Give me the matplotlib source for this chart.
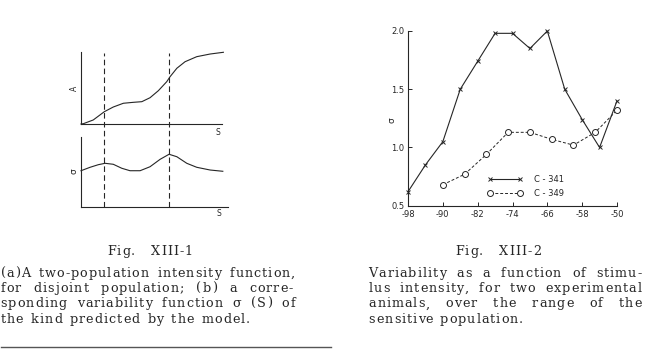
import matplotlib
matplotlib.use("Agg")
import matplotlib.pyplot as plt
from matplotlib.font_manager import FontProperties, findfont, get_font

# Fig. XIII-1 sketch curves (S in arbitrary units)
s_a = [0.0, 0.16, 0.85, 1.62, 2.24, 2.94, 3.63, 4.22, 4.79, 5.37, 5.95, 6.18, 6.65, 7.22, 8.03, 8.96, 9.88]
a_vals = [0.0, 0.04, 0.56, 1.71, 2.36, 2.88, 3.01, 3.10, 3.65, 4.63, 5.88, 6.57, 7.74, 8.65, 9.35, 9.72, 9.96]
s_sig = [0.0, 0.63, 1.20, 1.67, 2.24, 2.83, 3.40, 4.10, 4.79, 5.49, 6.11, 6.65, 7.34, 8.03, 8.96, 9.84]
sig_vals = [5.14, 5.63, 6.00, 6.20, 6.06, 5.49, 5.14, 5.14, 5.71, 6.77, 7.49, 7.14, 6.20, 5.63, 5.24, 5.06]
s_dashed = [1.62, 6.11]

# Fig. XIII-2 data
x_341 = [-98, -94, -90, -86, -82, -78, -74, -70, -66, -62, -58, -54, -50]
c_341 = [0.62, 0.85, 1.05, 1.50, 1.74, 1.98, 1.98, 1.85, 2.00, 1.50, 1.24, 1.00, 1.40]
x_349 = [-90, -85, -80, -75, -70, -65, -60, -55, -50]
c_349 = [0.68, 0.77, 0.94, 1.13, 1.13, 1.07, 1.02, 1.13, 1.32]
xticks = [-98, -90, -82, -74, -66, -58, -50]
xtick_labels = ["-98", "-90", "-82", "-74", "-66", "-58", "-50"]
yticks = [0.5, 1.0, 1.5, 2.0]
ytick_labels = ["0.5", "1.0", "1.5", "2.0"]

cap1 = ["(a)A two-population intensity function,",
        "for disjoint population; (b) a corre-",
        "sponding variability function \u03c3 (S) of",
        "the kind predicted by the model."]
cap2 = ["Variability as a function of stimu-",
        "lus intensity, for two experimental",
        "animals, over the range of the",
        "sensitive population."]
# right ends of the caption lines (pixels)
cap1_ends = [295, 293, 295, 250]
cap2_ends = [641.5, 641.5, 641.5, 523]

INK = "#262626"
W, H = 645, 350

fig = plt.figure(figsize=(6.45, 3.5), dpi=100)
fig.patch.set_facecolor("white")


def fx(px):
    return px / W


def fy(py):
    return 1 - py / H


# ---- left figure: two stacked sketch panels
def sketch_axes(rect, xmax):
    ax = fig.add_axes(rect)
    for side in ["top", "right"]:
        ax.spines[side].set_visible(False)
    for side in ["left", "bottom"]:
        ax.spines[side].set_color(INK)
        ax.spines[side].set_linewidth(0.8)
    ax.spines["bottom"].set_bounds(0, xmax)
    ax.set_xticks([])
    ax.set_yticks([])
    ax.set_xlim(0, 10.2)
    ax.set_ylim(0, 10)
    ax.patch.set_alpha(0)
    return ax


ax_a = sketch_axes([fx(81), fy(124), fx(147), 72 / H], 9.8)
ax_a.plot(s_a, a_vals, color=INK, lw=0.8, clip_on=False)
ax_a.set_xlabel("S", fontsize=5.5, color=INK)
ax_a.xaxis.set_label_coords(0.934, -0.05)
ax_a.set_ylabel("A", fontsize=5.5, color=INK)
ax_a.yaxis.set_label_coords(-0.012, 0.5)

ax_s = sketch_axes([fx(81), fy(206.7), fx(147), 70 / H], 10.2)
ax_s.plot(s_sig, sig_vals, color=INK, lw=0.8, clip_on=False)
ax_s.set_xlabel("S", fontsize=5.5, color=INK)
ax_s.xaxis.set_label_coords(0.939, -0.04)
ax_s.set_ylabel("\u03c3", fontsize=6.5, color=INK)
ax_s.yaxis.set_label_coords(-0.015, 0.51)

# dashed verticals running through both panels
ax_d = fig.add_axes([fx(81), fy(206.7), fx(147), (206.7 - 53.3) / H])
ax_d.set_xlim(0, 10.2)
ax_d.set_ylim(0, 1)
ax_d.axis("off")
ax_d.vlines(s_dashed, 0, 1, colors=INK, linestyles=(0, (5, 3)), lw=0.8)

# ---- right figure
ax = fig.add_axes([fx(408), fy(205.7), fx(617 - 408), (205.7 - 31) / H])
for side in ["top", "right"]:
    ax.spines[side].set_visible(False)
for side in ["left", "bottom"]:
    ax.spines[side].set_color(INK)
    ax.spines[side].set_linewidth(0.8)
ax.set_xlim(-98, -50)
ax.set_ylim(0.5, 2.0)
ax.plot(x_341, c_341, color=INK, lw=0.8, marker="x", ms=2.2, mew=0.7,
        clip_on=False, label="C - 341")
ax.plot(x_349, c_349, color=INK, lw=0.7, ls=(0, (3, 2)), marker="o", ms=4.3,
        mfc="white", mec=INK, mew=0.7, clip_on=False, label="C - 349")
ax.set_xticks(xticks)
ax.set_xticklabels(xtick_labels)
ax.set_yticks(yticks)
ax.set_yticklabels(ytick_labels)
ax.tick_params(direction="in", length=3, width=0.7, colors=INK, labelsize=6)
ax.tick_params(axis="y", pad=2.5)
ax.tick_params(axis="x", pad=3)
ax.set_ylabel("\u03c3", fontsize=6.5, color=INK)
ax.yaxis.set_label_coords(-0.055, 0.49)
leg = ax.legend(loc="upper left", bbox_to_anchor=((487 - 408) / 209, (205.7 - 175) / 174.7),
                frameon=False, fontsize=6, numpoints=2, handlelength=4.2,
                handletextpad=1.4, labelspacing=0.6, borderpad=0, borderaxespad=0)
for t in leg.get_texts():
    t.set_color(INK)

# ---- captions (typewriter-like letter spacing, justified lines)
cap_kw = dict(family="DejaVu Serif", fontsize=9.2, color=INK, va="baseline")
TRACK = 1.0  # extra pixels between letters
ft = get_font(findfont(FontProperties(family="DejaVu Serif")))
ft.set_size(cap_kw["fontsize"], fig.dpi)


def char_width(c):
    return ft.load_char(ord(c)).linearHoriAdvance / 65536


def word_width(word):
    return sum(char_width(c) for c in word) + TRACK * (len(word) - 1)


def set_word(word, x, ybase):
    for c in word:
        fig.text(fx(x), fy(ybase), c, **cap_kw)
        x += char_width(c) + TRACK


def justify(line, x0, x1, ybase):
    words = line.split()
    widths = [word_width(w) for w in words]
    gap = (x1 - x0 - sum(widths)) / max(len(words) - 1, 1)
    x = x0
    for w, ww in zip(words, widths):
        set_word(w, x, ybase)
        x += ww + gap


justify("Fig. XIII-1", 107, 193, 255)
justify("Fig. XIII-2", 455, 541, 255)
for i, (line, end) in enumerate(zip(cap1, cap1_ends)):
    justify(line, 0.5, end, 277 + 15.2 * i)
for i, (line, end) in enumerate(zip(cap2, cap2_ends)):
    justify(line, 368.5, end, 277 + 15.2 * i)

fig.add_artist(plt.Line2D([fx(1), fx(331)], [fy(346.5), fy(346.5)],
                          color="#555555", lw=1.0))

fig.savefig("out.png", dpi=100, facecolor="white")
